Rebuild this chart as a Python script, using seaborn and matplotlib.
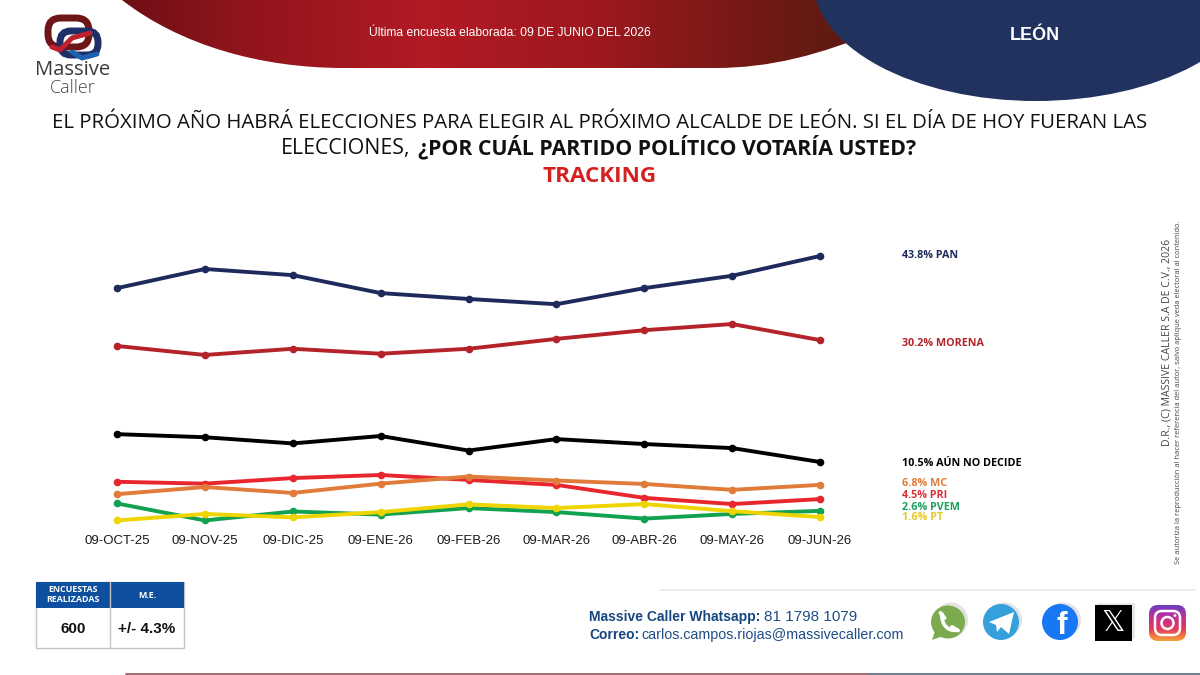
import numpy as np
import pandas as pd
import matplotlib
matplotlib.use("Agg")
import matplotlib.pyplot as plt
import seaborn as sns
from matplotlib.patches import Ellipse, PathPatch, FancyBboxPatch, Rectangle, Circle, Polygon
from matplotlib.path import Path
from matplotlib.colors import LinearSegmentedColormap

months = ["09-OCT-25", "09-NOV-25", "09-DIC-25", "09-ENE-26", "09-FEB-26", "09-MAR-26", "09-ABR-26", "09-MAY-26", "09-JUN-26"]
pan = [38.6, 41.7, 40.7, 37.8, 36.85, 36.0, 38.6, 40.6, 43.8]
morena = [29.25, 27.8, 28.8, 28.0, 28.8, 30.4, 31.8, 32.8, 30.2]
no_decide = [15.0, 14.5, 13.5, 14.7, 12.35, 14.2, 13.4, 12.75, 10.5]
pri = [7.3, 7.0, 7.9, 8.4, 7.6, 6.8, 4.7, 3.7, 4.5]
mc = [5.3, 6.45, 5.5, 7.0, 8.15, 7.5, 6.95, 6.0, 6.8]
pvem = [3.8, 1.05, 2.5, 2.0, 3.05, 2.4, 1.35, 2.1, 2.6]
pt = [1.05, 2.1, 1.55, 2.4, 3.65, 3.05, 3.7, 2.55, 1.6]

series = {"PAN": pan, "MORENA": morena, "AÚN NO DECIDE": no_decide, "PRI": pri, "MC": mc, "PVEM": pvem, "PT": pt}
line_colors = {"PAN": "#1f2a5c", "MORENA": "#b5232a", "AÚN NO DECIDE": "#000000", "PRI": "#e8262e",
               "MC": "#e07b39", "PVEM": "#12a150", "PT": "#f0d400"}
label_colors = {"PAN": "#1f2a5c", "MORENA": "#b5232a", "AÚN NO DECIDE": "#000000", "PRI": "#d6323b",
                "MC": "#e07b39", "PVEM": "#1f9e5c", "PT": "#e3c92a"}
label_y = {"PAN": 254, "MORENA": 342, "AÚN NO DECIDE": 462, "MC": 482, "PRI": 494, "PVEM": 505, "PT": 516}

df = pd.DataFrame([{"x": i, "partido": k, "v": val} for k, vals in series.items() for i, val in enumerate(vals)])

sns.set_theme(style="white")
plt.rcParams["font.family"] = ["Liberation Sans", "DejaVu Sans"]
W, H = 1200, 675
fig = plt.figure(figsize=(12, 6.75), dpi=100, facecolor="white")

# Decorative layer in pixel coordinates
bg = fig.add_axes([0, 0, 1, 1], zorder=0)
bg.set_axis_off()

cmap = LinearSegmentedColormap.from_list("r", [(0, "#6e0f16"), (0.15, "#8f141c"), (0.4, "#b21a24"), (0.62, "#a0181f"), (0.85, "#6f1a14"), (1, "#581a12")])
grad = np.linspace(0, 1, 400).reshape(1, -1)
im = bg.imshow(grad, cmap=cmap, extent=[120, 880, 80, 0], aspect="auto", zorder=1)
verts = [(122, 0), (180, 45), (260, 68), (344, 68), (715, 68), (770, 68), (820, 55), (880, 30), (880, 0), (122, 0)]
codes = [Path.MOVETO, Path.CURVE4, Path.CURVE4, Path.CURVE4, Path.LINETO, Path.CURVE4, Path.CURVE4, Path.CURVE4, Path.LINETO, Path.CLOSEPOLY]
red_patch = PathPatch(Path(verts, codes), fc="none", ec="none", transform=bg.transData)
bg.add_patch(red_patch)
im.set_clip_path(red_patch)
bg.add_patch(Ellipse((1036, -20), 446, 242, fc="#22325f", ec="none", zorder=2))
bg.set_xlim(0, W)
bg.set_ylim(H, 0)

def T(x, y, s, **kw):
    kw.setdefault("va", "center")
    kw.setdefault("ha", "left")
    if kw.get("rotation") == 90:
        x += 2
    elif kw["va"] == "center":
        y += 2
    return bg.text(x, y, s, zorder=6, **kw)

T(369, 31, "Última encuesta elaborada: 09 DE JUNIO DEL 2026", color="white", fontsize=8.7)
T(1035, 34, "LEÓN", color="white", fontsize=13, fontweight="bold", ha="center")

# Logo
bg.add_patch(FancyBboxPatch((48, 18), 41, 29, boxstyle="round,pad=0,rounding_size=13", fc="none", ec="#6e1518", lw=5, zorder=3))
bg.add_patch(FancyBboxPatch((60, 31), 38, 24, boxstyle="round,pad=0,rounding_size=11", fc="none", ec="#1d2f66", lw=5, zorder=4))
bg.plot([52, 60, 72, 90], [47, 50, 38, 33], color="#c01f2e", lw=3.6, zorder=5, solid_capstyle="round")
bg.plot([72, 82, 97], [52, 58, 54], color="#1c62b0", lw=3.6, zorder=5, solid_capstyle="round")
T(73, 68, "Massive", ha="center", fontsize=14.6, color="#3a3a3a", family="Open Sans")
T(73, 86, "Caller", ha="center", fontsize=13, color="#4a4a4a", family="Open Sans", fontweight="light")

# Question
TF = "Open Sans"
T(600, 121, "EL PRÓXIMO AÑO HABRÁ ELECCIONES PARA ELEGIR AL PRÓXIMO ALCALDE DE LEÓN. SI EL DÍA DE HOY FUERAN LAS",
  ha="center", fontsize=14.65, color="#111111", family=TF)
T(281, 154, "ELECCIONES,", va="baseline", fontsize=15.4, color="#111111", family=TF)
T(418, 154, "¿POR CUÁL PARTIDO POLÍTICO VOTARÍA USTED?", va="baseline", fontsize=15.3, color="#111111", family=TF, fontweight="bold")
T(600, 174, "TRACKING", ha="center", fontsize=16.2, color="#d6201f", family=TF, fontweight="bold")

# End labels
for name, vals in series.items():
    T(902, label_y[name], f"{vals[-1]:.1f}% {name}", fontsize=7.75, fontweight="bold", color=label_colors[name], family=TF)

# Rotated notice
T(1165, 342, "D.R., (C) MASSIVE CALLER S.A DE C.V., 2026", rotation=90, ha="center", fontsize=7.6, color="#444444", family=TF)
T(1176, 392, "Se autoriza la reproducción al hacer referencia del autor, salvo aplique veda electoral al contenido.",
  rotation=90, ha="center", fontsize=5.45, color="#444444", family=TF)

# Table
bg.add_patch(Rectangle((36, 582), 148, 66, fc="white", ec="#c4c4c4", lw=1, zorder=3))
bg.add_patch(Rectangle((36, 582), 148, 26, fc="#0f4fa0", ec="none", zorder=4))
bg.plot([110, 110], [582, 648], color="#c4c4c4", lw=1, zorder=5)
T(73, 588, "ENCUESTAS", ha="center", color="white", fontsize=6.4, fontweight="bold", family=TF)
T(73, 598, "REALIZADAS", ha="center", color="white", fontsize=6.4, fontweight="bold", family=TF)
T(147, 593, "M.E.", ha="center", color="white", fontsize=6.4, fontweight="bold", family=TF)
T(73, 627, "600", ha="center", color="#111111", fontsize=11, fontweight="bold")
T(147, 627, "+/- 4.3%", ha="center", color="#111111", fontsize=11, fontweight="bold")

# Footer rules
bg.plot([660, 1195], [590, 590], color="#e8e8e8", lw=1.2, zorder=2)
bg.plot([126, 870], [674, 674], color="#9c6a70", lw=1.4, zorder=2)
bg.plot([870, 1200], [674, 674], color="#6b7a90", lw=1.4, zorder=2)

# Contact
BLUE = "#1f4e86"
T(589, 615, "Massive Caller Whatsapp:", color="#17477f", fontsize=10, fontweight="bold")
T(764, 615, "81 1798 1079", color=BLUE, fontsize=11)
T(589, 633, "Correo:", color="#17477f", fontsize=10, fontweight="bold")
T(641, 633, "carlos.campos.riojas@massivecaller.com", color=BLUE, fontsize=10.3)

# Social icons
for cx, w in [(948, 34), (1001, 36), (1060, 36)]:
    bg.add_patch(Ellipse((cx + 3, 620), w, 35, fc="#cfcfcf", ec="none", alpha=0.6, zorder=3))
bg.add_patch(Ellipse((948, 622), 34, 33, fc="#7cab4f", ec="none", zorder=4))
bg.add_patch(Polygon([(932, 640), (936, 628), (943, 636)], fc="#7cab4f", ec="none", zorder=4))
phone = Path([(942, 614), (941, 625), (949, 632), (957, 630)], [Path.MOVETO, Path.CURVE4, Path.CURVE4, Path.CURVE4])
bg.add_patch(PathPatch(phone, fc="none", ec="white", lw=2.6, capstyle="round", zorder=5))
bg.plot([940.5, 944.5], [613, 618], color="white", lw=2.8, zorder=5, solid_capstyle="round")
bg.plot([952, 958], [627, 630.5], color="white", lw=2.8, zorder=5, solid_capstyle="round")
bg.add_patch(Ellipse((1001, 622), 36, 36, fc="#35a0dc", ec="none", zorder=4))
bg.add_patch(Polygon([(989, 622), (1014, 612), (1009, 634), (1001, 627), (997, 632), (996, 625)], fc="white", ec="none", zorder=5))
bg.add_patch(Ellipse((1060, 622), 36, 36, fc="#1877f2", ec="none", zorder=4))
T(1062, 624, "f", ha="center", color="white", fontsize=23, fontweight="bold", family="Liberation Sans")
bg.add_patch(Rectangle((1097, 603), 38, 36, fc="#d9d9d9", ec="none", alpha=0.6, zorder=3))
bg.add_patch(Rectangle((1095, 605), 37, 36, fc="black", ec="none", zorder=4))
T(1113.5, 621, "\U0001D54F", ha="center", color="white", fontsize=21, family="DejaVu Sans")
insta = FancyBboxPatch((1149, 605), 37, 36, boxstyle="round,pad=0,rounding_size=9", fc="none", ec="none", zorder=4)
bg.add_patch(insta)
ic = LinearSegmentedColormap.from_list("i", ["#6a3fc0", "#c2309a", "#e8375a", "#f7a13a"])
iim = bg.imshow(np.linspace(0, 1, 64).reshape(-1, 1), cmap=ic, extent=[1149, 1186, 641, 605], aspect="auto", zorder=4)
iim.set_clip_path(insta)
bg.add_patch(FancyBboxPatch((1155, 611), 25, 24, boxstyle="round,pad=0,rounding_size=7", fc="none", ec="white", lw=1.8, zorder=5))
bg.add_patch(Circle((1167.5, 623), 6, fc="none", ec="white", lw=1.8, zorder=5))
bg.add_patch(Circle((1175, 615.5), 1.4, fc="white", ec="none", zorder=5))
bg.set_xlim(0, W)
bg.set_ylim(H, 0)

# Chart
L, R, TOP, BOT = 80, 860, 235, 525
ax = fig.add_axes([L / W, 1 - BOT / H, (R - L) / W, (BOT - TOP) / H], zorder=2)
ax.patch.set_alpha(0)
sns.lineplot(data=df, x="x", y="v", hue="partido", hue_order=list(series), palette=line_colors,
             marker="o", markersize=5.5, markeredgewidth=0, linewidth=2.8, legend=False, ax=ax, sort=False)
ax.set_xlim(-0.421, 8.455)
ax.set_ylim(0.315, 47.19)
ax.set_xticks(range(len(months)))
ax.set_xticklabels(months, fontsize=9.5, color="#1a1a1a")
ax.set_yticks([])
ax.set_xlabel("")
ax.set_ylabel("")
ax.tick_params(axis="x", length=0, pad=7)
ax.grid(False)
sns.despine(ax=ax, left=True, bottom=True)

fig.savefig("out.png", dpi=100, facecolor="white")
